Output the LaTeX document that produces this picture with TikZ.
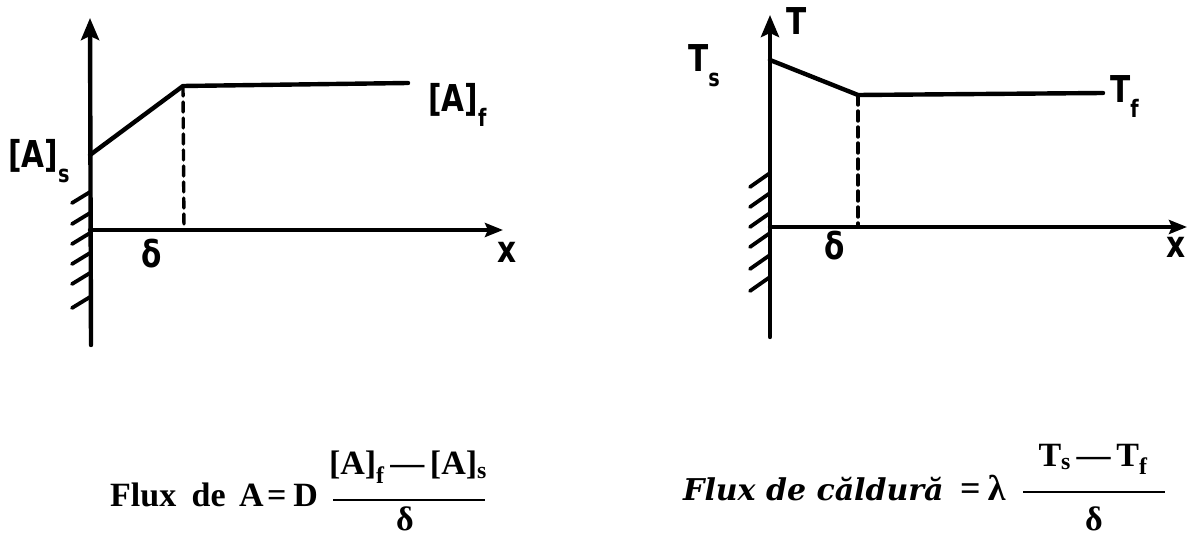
\documentclass[tikz,border=0pt]{standalone}
\usepackage{fontspec}
\setmainfont{Liberation Serif}
\newfontfamily\hand{DejaVu Sans}[FakeStretch=0.8]
\newfontfamily\heavy{DejaVu Serif}
\usetikzlibrary{arrows.meta}
\newcommand\hsub[1]{\raisebox{-0.4em}{\fontsize{24}{24}\selectfont #1}}
\begin{document}
\begin{tikzpicture}[x=1pt,y=-1pt, line cap=round, line join=round,
  axis/.style={line width=4.4pt},
  curve/.style={line width=4.4pt},
  guide/.style={line width=3.4pt, dash pattern=on 10pt off 6pt},
  hatch/.style={line width=3.8pt},
  bar/.style={line width=2.8pt, line cap=butt},
  tip/.style={-{Stealth[length=22pt,width=18pt,inset=4pt]}},
  tipx/.style={-{Stealth[length=18pt,width=14pt,inset=3pt]}},
  lbl/.style={font=\hand\bfseries\fontsize{37}{37}\selectfont, inner sep=0pt},
  frm/.style={font=\bfseries\fontsize{34}{34}\selectfont, inner sep=0pt},
  frmr/.style={font=\bfseries\fontsize{36}{36}\selectfont, inner sep=0pt}]
\useasboundingbox (0,0) rectangle (1187,537);
% ---------- left diagram ----------
\coordinate (LO) at (90,230);
\coordinate (LTop) at (90,18);
\coordinate (LBot) at (91,345);
\coordinate (LX) at (503,230);
\coordinate (LS) at (90,155);
\coordinate (LK) at (183,86);
\coordinate (LF) at (408,83);
\coordinate (LD) at (184,230);
\draw[axis,tip] (LBot) -- (LTop);
\draw[axis,tipx] (LO) -- (LX);
\draw[curve] (LS) -- (LK) -- (LF);
\draw[guide] (LK) -- (LD);
\foreach \y in {192,213,233,253,273,297}
  \draw[hatch] (90,\y) -- (72,\y+11);
\node[lbl,anchor=base west] (As) at (8,168) {[A]\hsub{s}};
\node[lbl,anchor=base west] (Af) at (428,112) {[A]\hsub{f}};
\node[lbl,anchor=base] (dl) at (152,268) {δ};
\node[lbl,anchor=base] (xl) at (507,263) {x};
% ---------- right diagram ----------
\coordinate (RO) at (770,227);
\coordinate (RTop) at (770,15);
\coordinate (RBot) at (770,337);
\coordinate (RX) at (1187,227);
\coordinate (RS) at (770,60);
\coordinate (RK) at (858,95);
\coordinate (RF) at (1103,93);
\coordinate (RD) at (858,227);
\draw[axis,tip] (RBot) -- (RTop);
\draw[axis,tipx] (RO) -- (RX);
\draw[curve] (RS) -- (RK) -- (RF);
\draw[guide] (RK) -- (RD);
\foreach \y in {173,193,213,233,255,277}
  \draw[hatch] (770,\y) -- (750,\y+14);
\node[lbl,anchor=base west] (T) at (786,35) {T};
\node[lbl,anchor=base west] (Ts) at (688,72) {T\hsub{s}};
\node[lbl,anchor=base west] (Tf) at (1110,103) {T\hsub{f}};
\node[lbl,anchor=base] (dr) at (835,260) {δ};
\node[lbl,anchor=base] (xr) at (1176,258) {x};
% ---------- left formula ----------
\node[frm,anchor=base west] (fl) at (110,506)
  {Flux\hspace{0.45em}de\hspace{0.4em}A\hspace{0.1em}=\hspace{0.2em}D};
\coordinate (bl1) at (333,500);
\coordinate (bl2) at (485,500);
\draw[bar] (bl1) -- (bl2);
\node[frm,anchor=base] (nl) at (408,475)
  {[A]\textsubscript{f}\,—\,[A]\textsubscript{s}};
\node[frm,anchor=base] (dnl) at (405,530) {δ};
% ---------- right formula ----------
\node[font=\heavy\bfseries\itshape\fontsize{30}{30}\selectfont, inner sep=0pt,
  anchor=base west] (fr) at (683,500) {Flux de căldură};
\node[frmr,anchor=base west] (eq) at (960,500) {=\hspace{0.2em}λ};
\coordinate (br1) at (1023,492);
\coordinate (br2) at (1165,492);
\draw[bar] (br1) -- (br2);
\node[frm,anchor=base] (nr) at (1093,466)
  {T\textsubscript{s}\,—\,T\textsubscript{f}};
\node[frm,anchor=base] (dnr) at (1094,530) {δ};
\end{tikzpicture}
\end{document}
